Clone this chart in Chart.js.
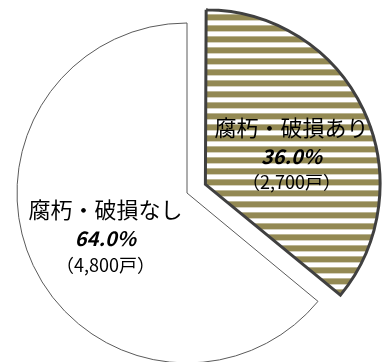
<!DOCTYPE html>
<html>
<head>
<meta charset="utf-8">
<script src="https://cdn.jsdelivr.net/npm/chart.js@4"></script>
<style>
  html, body { margin: 0; padding: 0; background: #fff; overflow: hidden; }
  #wrap { position: absolute; left: 0; top: 0; width: 385px; height: 386px; }
</style>
</head>
<body>
<div id="wrap"><canvas id="pie" width="385" height="386"></canvas></div>
<script>
// data
const categories = ["腐朽・破損あり", "腐朽・破損なし"];
const shares = [36.0, 64.0];
const households = ["2,700", "4,800"];

// striped fill for the first slice
const stripe = document.createElement("canvas");
stripe.width = 4;
stripe.height = 11;
const sctx = stripe.getContext("2d");
sctx.fillStyle = "#ffffff";
sctx.fillRect(0, 0, 4, 11);
sctx.fillStyle = "#938953";
sctx.fillRect(0, 1, 4, 6);
const stripePattern = sctx.createPattern(stripe, "repeat");

// chart.js v4 moves an arc by offset/4 * (2 - sin(circumference))
const pull = 25;
const circ0 = shares[0] / 100 * 2 * Math.PI;
const pullOption = pull * 4 / (2 - Math.sin(Math.min(Math.PI, circ0)));

// labels drawn inside each slice
const labelPlugin = {
  id: "sliceLabels",
  afterDatasetsDraw(chart, args, opts) {
    const ctx = chart.ctx;
    const arcs = chart.getDatasetMeta(0).data;
    arcs.forEach((arc, i) => {
      const p = arc.getProps(["x", "y", "startAngle", "endAngle", "outerRadius", "circumference"], true);
      const mid = (p.startAngle + p.endAngle) / 2;
      const o = chart.data.datasets[0].offset[i] || 0;
      const off = o / 4 * (2 - Math.sin(Math.min(Math.PI, p.circumference)));
      const cx = p.x + Math.cos(mid) * off;
      const cy = p.y + Math.sin(mid) * off;
      const r = p.outerRadius * opts.ratio[i];
      const x = cx + Math.cos(mid) * r + opts.nudge[i][0];
      const y = cy + Math.sin(mid) * r + opts.nudge[i][1];
      ctx.save();
      ctx.textAlign = "center";
      ctx.textBaseline = "middle";
      ctx.fillStyle = "#000";
      ctx.font = "22px 'Noto Sans CJK JP'";
      ctx.fillText(categories[i], x, y - 29);
      ctx.font = "italic bold 20px 'Noto Sans CJK JP'";
      ctx.fillText(shares[i].toFixed(1) + "%", x, y);
      ctx.font = "18px 'Noto Sans CJK JP'";
      ctx.fillText("（" + households[i] + "戸）", x, y + 26);
      ctx.restore();
    });
  }
};

new Chart(document.getElementById("pie"), {
  type: "pie",
  data: {
    labels: categories,
    datasets: [{
      data: shares,
      backgroundColor: [stripePattern, "#ffffff"],
      borderColor: ["#404040", "#5a5a5a"],
      borderWidth: [3, 1],
      borderJoinStyle: "miter",
      offset: [pullOption, 0]
    }]
  },
  options: {
    responsive: false,
    animation: false,
    radius: 170,
    layout: { padding: { left: 0, right: 11, top: 0, bottom: 0 } },
    plugins: {
      legend: { display: false },
      tooltip: { enabled: false },
      sliceLabels: { ratio: [0.5, 0.55], nudge: [[5, 10], [3, 6]] }
    }
  },
  plugins: [labelPlugin]
});
</script>
</body>
</html>
